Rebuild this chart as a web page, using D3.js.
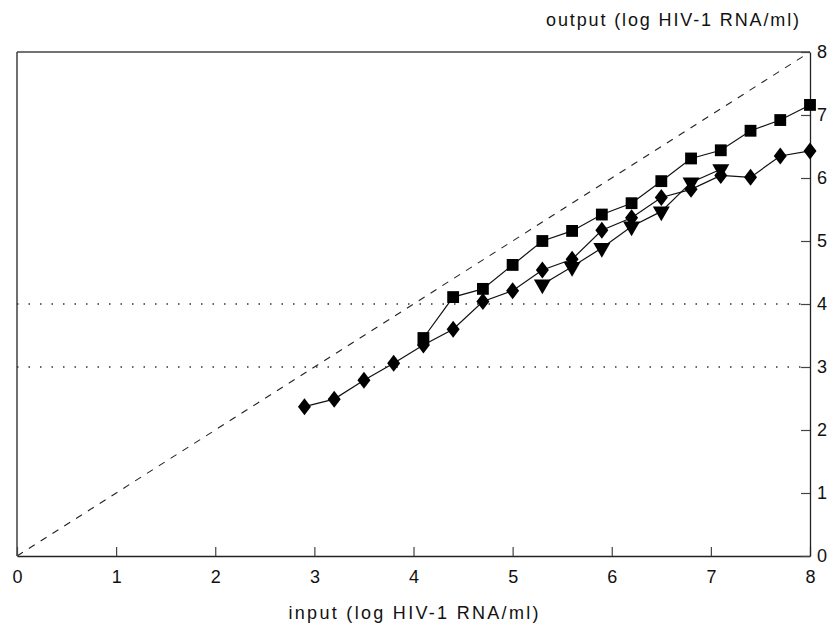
<!DOCTYPE html>
<html lang="en">
<head>
	<meta charset="UTF-8">
	<title>HIV-1 RNA input vs output</title>
	<script src="https://d3js.org/d3.v7.min.js"></script>
	<style>
		* {
			margin: 0px;
			padding: 0px;
		}
		body {
			background: #fff;
		}
		text {
			font-family: "Liberation Sans", Arial, sans-serif;
			fill: #111;
		}
	</style>
</head>
<body>
	<svg width="831" height="625"></svg>
	<script>
		// input values (log HIV-1 RNA/ml) for each series
		var squareX = [4.1, 4.4, 4.7, 5.0, 5.3, 5.6, 5.9, 6.2, 6.5, 6.8, 7.1, 7.4, 7.7, 8.0];
		var squareY = [3.46, 4.11, 4.24, 4.62, 5.00, 5.16, 5.42, 5.60, 5.95, 6.31, 6.44, 6.75, 6.92, 7.16];

		var diamondX = [2.9, 3.2, 3.5, 3.8, 4.1, 4.4, 4.7, 5.0, 5.3, 5.6, 5.9, 6.2, 6.5, 6.8, 7.1, 7.4, 7.7, 8.0];
		var diamondY = [2.37, 2.49, 2.79, 3.06, 3.35, 3.60, 4.04, 4.21, 4.54, 4.71, 5.17, 5.37, 5.69, 5.82, 6.04, 6.01, 6.35, 6.43];

		var triangleX = [5.3, 5.6, 5.9, 6.2, 6.5, 6.8, 7.1];
		var triangleY = [4.31, 4.59, 4.89, 5.23, 5.47, 5.93, 6.14];

		var tickValues = [0, 1, 2, 3, 4, 5, 6, 7, 8];
		var dottedLevels = [3, 4];
		var xTitle = "input (log HIV-1 RNA/ml)";
		var yTitle = "output (log HIV-1 RNA/ml)";

		var svg = d3.select("svg");

		var x = d3.scaleLinear().domain([0, 8]).range([17, 810]);
		var y = d3.scaleLinear().domain([0, 8]).range([556, 52]);

		function zip(xs, ys) {
			return xs.map(function (v, i) { return [v, ys[i]]; });
		}

		// frame: left and top edges
		svg.append("line")
			.attr("x1", x(0)).attr("x2", x(0))
			.attr("y1", y(8)).attr("y2", y(0))
			.attr("stroke", "#222").attr("stroke-width", 1.3);
		svg.append("line")
			.attr("x1", x(0)).attr("x2", x(8))
			.attr("y1", y(8)).attr("y2", y(8))
			.attr("stroke", "#444").attr("stroke-width", 1.3);

		// dotted reference levels
		svg.append("g")
			.selectAll("line")
			.data(dottedLevels)
			.enter()
			.append("line")
			.attr("x1", x(0)).attr("x2", x(8))
			.attr("y1", function (d) { return y(d); })
			.attr("y2", function (d) { return y(d); })
			.attr("stroke", "#333")
			.attr("stroke-width", 1.5)
			.attr("stroke-dasharray", "1.5,10");

		// identity line
		svg.append("line")
			.attr("x1", x(0)).attr("y1", y(0))
			.attr("x2", x(8)).attr("y2", y(8))
			.attr("stroke", "#222")
			.attr("stroke-width", 1.1)
			.attr("stroke-dasharray", "7,7");

		// bottom axis, ticks pointing in
		var xAxis = d3.axisBottom(x)
			.tickValues(tickValues)
			.tickSizeInner(-9)
			.tickSizeOuter(0)
			.tickPadding(14);
		var gx = svg.append("g")
			.attr("transform", "translate(0," + y(0) + ")")
			.call(xAxis);
		gx.select(".domain").attr("stroke", "#222").attr("stroke-width", 1.3);
		gx.selectAll(".tick line").attr("stroke", "#444").attr("stroke-width", 1.2);
		gx.selectAll(".tick text")
			.attr("font-size", "18px")
			.attr("font-family", "'Liberation Sans', Arial, sans-serif")
			.attr("fill", "#111");

		// right axis, ticks pointing in
		var yAxis = d3.axisRight(y)
			.tickValues(tickValues)
			.tickSizeInner(-9)
			.tickSizeOuter(0)
			.tickPadding(7);
		var gy = svg.append("g")
			.attr("transform", "translate(" + x(8) + ",0)")
			.call(yAxis);
		gy.select(".domain").attr("stroke", "#222").attr("stroke-width", 1.3);
		gy.selectAll(".tick line").attr("stroke", "#444").attr("stroke-width", 1.2);
		gy.selectAll(".tick text")
			.attr("font-size", "18px")
			.attr("font-family", "'Liberation Sans', Arial, sans-serif")
			.attr("fill", "#111");

		// series lines
		var line = d3.line()
			.x(function (d) { return x(d[0]); })
			.y(function (d) { return y(d[1]); });

		var series = [
			{ pts: zip(squareX, squareY), sym: d3.symbolSquare, size: 140, rot: 0 },
			{ pts: zip(diamondX, diamondY), sym: "diamond", size: 0, rot: 0 },
			{ pts: zip(triangleX, triangleY), sym: d3.symbolTriangle, size: 125, rot: 180 }
		];

		series.forEach(function (s) {
			svg.append("path")
				.attr("d", line(s.pts))
				.attr("fill", "none")
				.attr("stroke", "#111")
				.attr("stroke-width", 1.2);
		});

		series.forEach(function (s) {
			var g = svg.append("g");
			var pts = g.selectAll("path")
				.data(s.pts)
				.enter()
				.append("path")
				.attr("fill", "#000");
			if (s.sym === "diamond") {
				pts.attr("d", "M0,-8.5L6.5,0L0,8.5L-6.5,0Z")
					.attr("transform", function (d) { return "translate(" + x(d[0]) + "," + y(d[1]) + ")"; });
			} else {
				pts.attr("d", d3.symbol().type(s.sym).size(s.size))
					.attr("transform", function (d) {
						return "translate(" + x(d[0]) + "," + y(d[1]) + ") rotate(" + s.rot + ")";
					});
			}
		});

		// titles
		svg.append("text")
			.attr("x", x(4))
			.attr("y", 619)
			.attr("text-anchor", "middle")
			.attr("font-size", "18px")
			.attr("textLength", 250)
			.attr("lengthAdjust", "spacing")
			.text(xTitle);

		svg.append("text")
			.attr("x", 546)
			.attr("y", 26)
			.attr("font-size", "18px")
			.attr("textLength", 253)
			.attr("lengthAdjust", "spacing")
			.text(yTitle);
	</script>
</body>
</html>
